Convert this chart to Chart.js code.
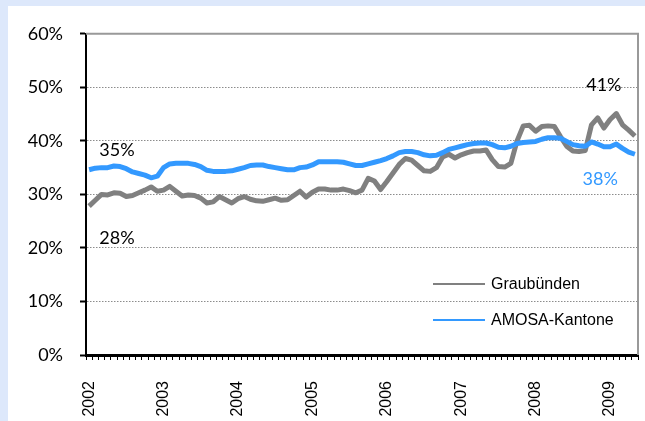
<!DOCTYPE html>
<html><head><meta charset="utf-8">
<script src="https://cdn.jsdelivr.net/npm/chart.js@4.4.0/dist/chart.umd.min.js"></script>
<style>
html,body{margin:0;padding:0;background:#dde8fb;width:645px;height:421px;overflow:hidden}
#wrap{position:absolute;left:8px;top:6px;width:637px;height:415px;background:#fff}
canvas{display:block}
</style></head><body>
<div id="wrap"><canvas id="c" width="637" height="415"></canvas></div>
<script>
// Years shown on the axis; monthly data Jan 2002 – May 2009
const yearLabels = ['2002','2003','2004','2005','2006','2007','2008','2009'];
const lastYearMonths = 5;

const graubuenden = [
  27.8,28.9,30.0,29.9,30.3,30.2,29.6,29.8,30.3,30.8,31.4,30.6,
  30.8,31.5,30.6,29.7,29.9,29.8,29.3,28.4,28.6,29.6,29.0,28.4,
  29.2,29.6,29.1,28.8,28.7,29.0,29.3,28.9,29.0,29.8,30.6,29.5,
  30.4,31.0,31.0,30.8,30.8,31.0,30.7,30.3,30.8,33.0,32.5,30.9,
  32.4,34.0,35.6,36.7,36.4,35.4,34.4,34.3,35.0,37.0,37.5,36.8,
  37.4,37.8,38.1,38.1,38.3,36.5,35.2,35.1,35.8,40.0,42.8,42.9,
  41.8,42.7,42.8,42.7,40.8,39.0,38.1,38.0,38.2,43.0,44.3,42.4,
  44.0,45.1,43.0,42.0,40.9
];
const amosa = [
  34.6,34.9,35.0,35.0,35.3,35.2,34.8,34.2,33.9,33.6,33.1,33.4,
  35.0,35.7,35.8,35.8,35.8,35.6,35.2,34.5,34.3,34.3,34.3,34.4,
  34.7,35.0,35.4,35.5,35.5,35.2,35.0,34.8,34.6,34.6,35.0,35.1,
  35.5,36.1,36.1,36.1,36.1,36.0,35.7,35.4,35.4,35.7,36.0,36.3,
  36.7,37.2,37.8,38.0,38.0,37.8,37.4,37.2,37.3,37.8,38.4,38.7,
  39.0,39.3,39.5,39.6,39.6,39.3,38.8,38.7,39.0,39.5,39.7,39.8,
  39.9,40.3,40.6,40.6,40.5,39.9,39.3,39.1,39.0,39.8,39.4,38.9,
  38.9,39.4,38.6,37.9,37.5
];
const seriesNames = ['Graubünden','AMOSA-Kantone'];
const yTicks = [0,10,20,30,40,50,60];

// Text annotations (label, category index, value in %)
const annotLabels = ['35%','28%','41%','38%'];
const annotIndex  = [4.5, 4.5, 83, 82.4];
const annotValue  = [38.3, 21.9, 50.4, 32.8];
const annotColors = ['#000','#000','#000','#3399ff'];

const categories = [];
yearLabels.forEach((y, yi) => {
  const n = yi === yearLabels.length - 1 ? lastYearMonths : 12;
  for (let m = 1; m <= n; m++) categories.push(y + '-' + String(m).padStart(2,'0'));
});

const GRAY = '#808080', BLUE = '#3399ff';

const framePlugin = {
  id: 'frame',
  beforeDatasetsDraw(chart) {
    const {ctx, chartArea: a} = chart;
    ctx.save();
    ctx.strokeStyle = '#999';
    ctx.lineWidth = 2;
    ctx.beginPath();
    ctx.moveTo(a.left, a.top);
    ctx.lineTo(a.right, a.top);
    ctx.lineTo(a.right, a.bottom);
    ctx.stroke();
    ctx.restore();
  },
  afterDraw(chart) {
    const {ctx, chartArea: a, scales} = chart;
    ctx.save();
    ctx.font = '18px Lato';
    ctx.textAlign = 'center';
    ctx.textBaseline = 'middle';
    annotLabels.forEach((t, i) => {
      ctx.fillStyle = annotColors[i];
      ctx.fillText(t, scales.x.getPixelForValue(annotIndex[i]), scales.y.getPixelForValue(annotValue[i]));
    });
    const colors = [GRAY, BLUE];
    const lx0 = a.right - 205, lx1 = a.right - 153, tx = a.right - 147;
    const rows = [a.bottom - 71, a.bottom - 35];
    ctx.font = '16px "Liberation Sans", Arial, sans-serif';
    ctx.textAlign = 'left';
    seriesNames.forEach((n, i) => {
      ctx.strokeStyle = colors[i];
      ctx.lineWidth = 2;
      ctx.beginPath();
      ctx.moveTo(lx0, rows[i]);
      ctx.lineTo(lx1, rows[i]);
      ctx.stroke();
      ctx.fillStyle = '#000';
      ctx.fillText(n, tx, rows[i] + 1);
    });
    ctx.restore();
  }
};

new Chart(document.getElementById('c'), {
  type: 'line',
  data: {
    labels: categories,
    datasets: [
      {label: seriesNames[1], data: amosa, borderColor: BLUE, borderWidth: 5, pointRadius: 0, tension: 0, borderJoinStyle: 'round', fill: false},
      {label: seriesNames[0], data: graubuenden, borderColor: GRAY, borderWidth: 5, pointRadius: 0, tension: 0, borderJoinStyle: 'round', fill: false}
    ]
  },
  options: {
    responsive: false,
    animation: false,
    devicePixelRatio: 1,
    layout: {padding: {left: 0, top: 25, right: 7, bottom: 0}},
    plugins: {legend: {display: false}, tooltip: {enabled: false}},
    scales: {
      x: {
        type: 'category',
        offset: true,
        grid: {display: true, offset: true, drawOnChartArea: false, drawTicks: true, tickLength: 5, tickColor: '#000', tickWidth: 1},
        border: {display: true, color: '#000', width: 3},
        ticks: {
          autoSkip: false, minRotation: 90, maxRotation: 90, padding: 21, color: '#000',
          font: {family: '"Liberation Sans", Arial, sans-serif', size: 16},
          callback: (v, i) => (i % 12 === 0 ? yearLabels[i / 12] : '')
        },
        afterFit: s => { s.height = 66; s.paddingLeft = 0; s.paddingRight = 0; }
      },
      y: {
        min: 0, max: 60,
        afterBuildTicks: s => { s.ticks = yTicks.map(v => ({value: v})); },
        ticks: {padding: 17, color: '#000', font: {family: 'Lato', size: 18}, callback: v => v + '%'},
        grid: {color: '#8c8c8c', lineWidth: 1, tickLength: 6, tickColor: '#000', tickWidth: 2},
        border: {display: true, color: '#000', width: 2, dash: [1.5, 1.5]},
        afterFit: s => { s.width = 78; }
      }
    }
  },
  plugins: [framePlugin]
});
</script>
</body></html>
